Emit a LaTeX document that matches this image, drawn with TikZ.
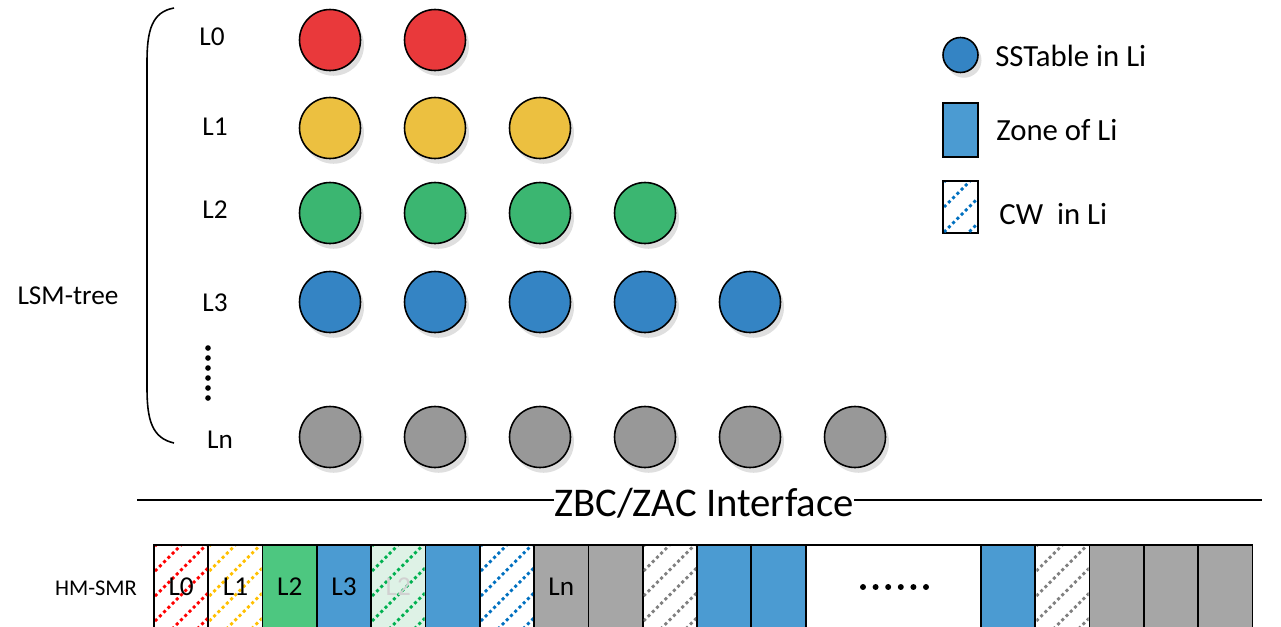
\documentclass[tikz,border=0pt]{standalone}
\usepackage{fontspec}
\setmainfont{Carlito}
\usetikzlibrary{shadows}

\definecolor{sred}{RGB}{233,57,59}
\definecolor{syellow}{RGB}{236,192,64}
\definecolor{sgreen}{RGB}{59,182,113}
\definecolor{sblue}{RGB}{52,132,196}
\definecolor{sgrey}{RGB}{152,152,152}
\definecolor{zgreen}{RGB}{77,199,128}
\definecolor{zblue}{RGB}{75,155,210}
\definecolor{zgrey}{RGB}{166,166,166}
\definecolor{zlgreen}{RGB}{222,242,230}
\definecolor{hred}{RGB}{255,0,0}
\definecolor{hyellow}{RGB}{255,192,0}
\definecolor{hgreen}{RGB}{0,176,80}
\definecolor{hblue}{RGB}{0,112,192}
\definecolor{hgrey}{RGB}{128,128,128}

\tikzset{
	sst/.style={circle, draw=black, line width=0.9pt, minimum size=1.22cm, inner sep=0pt,
		drop shadow={opacity=0.25, shadow xshift=2pt, shadow yshift=-3pt}},
	lbl/.style={inner sep=0pt, font=\fontsize{15.5}{18}\selectfont},
	leg/.style={inner sep=0pt, anchor=west, font=\fontsize{17.5}{21}\selectfont},
	zone/.style={draw=black, line width=1pt, outer sep=0pt, inner sep=0pt,
		minimum width=1.086cm, minimum height=1.68cm, anchor=north west},
}

% dotted diagonal stripes of a CW, clipped to its box
\newcommand{\cwlines}[5]{%
	\begin{scope}
		\clip (#1,#2) rectangle (#3,#4);
		\foreach \k in {0,...,8}
			\draw[#5, line width=1.6pt, dash pattern=on 1.7pt off 1.7pt] (#1,{#2+25*\k}) -- ++(110,-110);
	\end{scope}}

\begin{document}
\begin{tikzpicture}[x=0.02cm, y=-0.02cm]
	\useasboundingbox (0,0) rectangle (1281,626);

	% SSTables per level
	\foreach \lv/\yy/\nn/\cc in {0/40/2/sred, 1/128/3/syellow, 2/213/4/sgreen, 3/302/5/sblue, n/437/6/sgrey}
		\foreach \i in {1,...,\nn}
			\node[sst, fill=\cc] (c\lv\i) at ({330+105*(\i-1)},\yy) {};

	\node[lbl] (l0) at (212,37) {L0};
	\node[lbl] (l1) at (215,127) {L1};
	\node[lbl] (l2) at (215,210) {L2};
	\node[lbl] (l3) at (215,303) {L3};
	\node[lbl] (ln) at (220,440) {Ln};
	\foreach \k in {0,...,5}
		\fill (208,{348+10*\k}) circle (1.6pt);

	\node[lbl] (lsm) at (68,296) {LSM-tree};
	\draw[line width=0.9pt] (174,8) .. controls (152,12) and (147,30) .. (147,62) -- (147,388)
		.. controls (147,420) and (152,438) .. (174,443);

	% interface line
	\coordinate (ifl) at (137,500);
	\coordinate (ifr) at (1262,500);
	\draw[line width=1.1pt] (ifl) -- (ifr);
	\node[fill=white, inner xsep=0pt, inner ysep=3pt, font=\fontsize{23.2}{27}\selectfont] (iface) at (704,503) {ZBC/ZAC Interface};

	% zones on the disk
	\node[lbl, font=\fontsize{12.8}{15}\selectfont] (smr) at (96,588) {HM-SMR};
	\foreach \i/\fc in {0/white, 1/white, 2/zgreen, 3/zblue, 4/zlgreen, 5/zblue, 6/white, 7/zgrey, 8/zgrey, 9/white, 10/zblue, 11/zblue}
		\node[zone, fill=\fc] (z\i) at ({154+54.3*\i},545) {};
	\node[zone, fill=white, minimum width=3.5cm] (zgap) at (806,545) {};
	\foreach \j/\fc in {0/zblue, 1/white, 2/zgrey, 3/zgrey, 4/zgrey}
		\node[zone, fill=\fc] (r\j) at ({981+54.3*\j},545) {};

	\foreach \i/\hc in {0/hred, 1/hyellow, 4/hgreen, 6/hblue, 9/hgrey}
		\cwlines{154+54.3*\i+1}{546}{154+54.3*\i+53.3}{626}{\hc};
	\cwlines{1036.3}{546}{1088.6}{626}{hgrey};

	\node[lbl] (t0) at (z0) {L0};
	\node[lbl] (t1) at (z1) {L1};
	\node[lbl] (t2) at (z2) {L2};
	\node[lbl] (t3) at (z3) {L3};
	\node[lbl, text=black!18] (t4) at (z4) {L2};
	\node[lbl] (t7) at (z7) {Ln};
	\foreach \k in {0,...,5}
		\fill ({863+12.6*\k},587) circle (1.7pt);

	% legend
	\node[sst, fill=sblue, minimum size=0.7cm] (lg1) at (960.5,55) {};
	\node[leg] (lt1) at (995,56) {SSTable in Li};
	\node[zone, fill=zblue, anchor=center, minimum width=0.7cm, minimum height=1.08cm] (lg2) at (960.5,130) {};
	\node[leg] (lt2) at (996,130) {Zone of Li};
	\node[zone, fill=white, anchor=center, minimum width=0.7cm, minimum height=1.04cm] (lg3) at (960.5,207) {};
	\cwlines{944}{182}{977}{232}{hblue};
	\node[leg] (lt3) at (999,214) {CW~ in Li};
\end{tikzpicture}
\end{document}
